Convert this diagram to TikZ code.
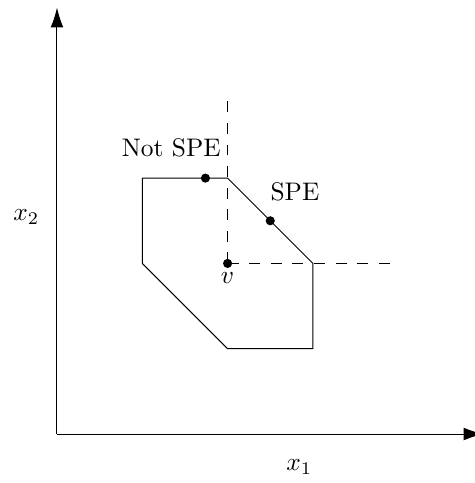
\documentclass[tikz,border=0pt]{standalone}
\usetikzlibrary{arrows.meta}
\begin{document}
\begin{tikzpicture}[x=1.18cm, y=1.18cm, every node/.style={font=\normalsize}]
  \useasboundingbox (-0.668,-0.574) rectangle (4.889,5.088);
  % axes
  \draw[-{Latex[length=7.8pt,width=5pt]}] (0,0) -- (5,0);
  \draw[-{Latex[length=7.8pt,width=5pt]}] (0,0) -- (0,5);
  \node (xone) at (2.84,-0.39) {\(x_1\)};
  \node (xtwo) at (-0.36,2.54) {\(x_2\)};
  % feasible set
  \draw (1,3) -- (2,3) -- (3,2) -- (3,1) -- (2,1) -- (1,2) -- cycle;
  % orthant at v
  \coordinate (v) at (2,2);
  \coordinate (vtop) at (2,3.9);
  \coordinate (vright) at (3.9,2);
  \draw[dash pattern=on 4.3pt off 4.2pt] (v) -- (vtop);
  \draw[dash pattern=on 4.3pt off 4.2pt] (v) -- (vright);
  \fill (v) circle (1.8pt);
  \node[below] (vlabel) at (v) {\(v\)};
  % points
  \coordinate (notspe) at (1.74,3);
  \coordinate (spe) at (2.5,2.5);
  \fill (notspe) circle (1.8pt);
  \fill (spe) circle (1.8pt);
  \node (notspelabel) at (1.34,3.35) {Not SPE};
  \node (spelabel) at (2.79,2.84) {SPE};
\end{tikzpicture}
\end{document}
